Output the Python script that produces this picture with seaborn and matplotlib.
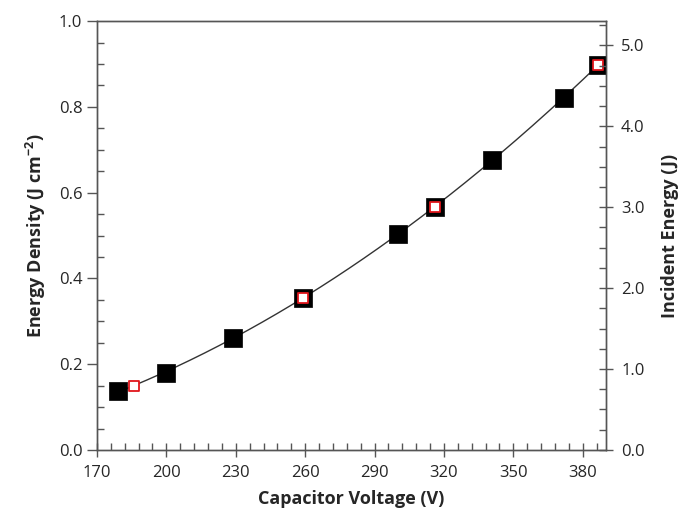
import numpy as np
import pandas as pd
import matplotlib
matplotlib.use("Agg")
import matplotlib.pyplot as plt
from matplotlib.ticker import MultipleLocator, FixedLocator, FormatStrFormatter
import seaborn as sns

# Data
black_v = [179, 200, 229, 259, 300, 316, 341, 372, 386.5]
black_e = [0.137, 0.180, 0.261, 0.355, 0.504, 0.567, 0.676, 0.821, 0.898]
red_v = [186, 259, 316, 386.5]
red_e = [0.150, 0.355, 0.567, 0.898]
x_ticks = [170, 200, 230, 260, 290, 320, 350, 380]

sns.set_theme(style="white")
plt.rcParams['font.family'] = ['Open Sans', 'DejaVu Sans']

fig = plt.figure(figsize=(6.83, 5.16), dpi=100)
ax = fig.add_axes([0.142, 0.128, 0.745, 0.831])

# smooth fit curve through the black points
coef = np.polyfit(black_v, black_e, 2)
xs = np.linspace(min(black_v), max(black_v), 200)
fit = pd.DataFrame({"v": xs, "e": np.polyval(coef, xs)})
sns.lineplot(data=fit, x="v", y="e", ax=ax, color="#333333", lw=1.0, zorder=2)

dfb = pd.DataFrame({"v": black_v, "e": black_e})
dfr = pd.DataFrame({"v": red_v, "e": red_e})
sns.scatterplot(data=dfb, x="v", y="e", ax=ax, marker="s", s=150, color="black",
                edgecolor="black", linewidth=0.5, zorder=3)
sns.scatterplot(data=dfr, x="v", y="e", ax=ax, marker="s", s=50, facecolor="white",
                edgecolor="#e0161b", linewidth=1.3, zorder=4)

ax.set_xlim(170, 390)
ax.set_ylim(0, 1.0)
ax.xaxis.set_major_locator(FixedLocator(x_ticks))
ax.xaxis.set_minor_locator(FixedLocator(np.arange(170, 391, 6)))
ax.set_xticklabels([str(t) for t in x_ticks])
ax.yaxis.set_major_locator(MultipleLocator(0.2))
ax.yaxis.set_minor_locator(MultipleLocator(0.05))
ax.yaxis.set_major_formatter(FormatStrFormatter('%.1f'))

for s in ax.spines.values():
    s.set_color("#555555")
    s.set_linewidth(1.0)

ax.tick_params(axis='x', which='major', direction='inout', length=10, width=1,
               color="#555555", labelsize=12, pad=6, bottom=True)
ax.tick_params(axis='x', which='minor', direction='in', length=5, width=1,
               color="#555555", bottom=True)
ax.tick_params(axis='y', which='major', direction='out', length=7, width=1,
               color="#555555", labelsize=12, left=True)
ax.tick_params(axis='y', which='minor', direction='in', length=5, width=1,
               color="#555555", left=True)

ax.set_xlabel("Capacitor Voltage (V)", fontsize=13, fontweight='bold', labelpad=6)
ax.set_ylabel("Energy Density (J cm$^{\\mathregular{-2}}$)", fontsize=13,
              fontweight='bold', labelpad=8)

ax2 = ax.twinx()
ax2.set_ylim(0, 5.3)
ax2.yaxis.set_major_locator(MultipleLocator(1.0))
ax2.yaxis.set_minor_locator(MultipleLocator(0.25))
ax2.yaxis.set_major_formatter(FormatStrFormatter('%.1f'))
ax2.tick_params(axis='y', which='major', direction='inout', length=10, width=1,
                color="#555555", labelsize=12, right=True, pad=6)
ax2.tick_params(axis='y', which='minor', direction='in', length=5, width=1,
                color="#555555", right=True)
for s in ax2.spines.values():
    s.set_color("#555555")
    s.set_linewidth(1.0)
ax2.set_ylabel("Incident Energy (J)", fontsize=13, fontweight='bold', labelpad=12)
ax2.grid(False)
ax.grid(False)

fig.savefig("out.png", dpi=100)
